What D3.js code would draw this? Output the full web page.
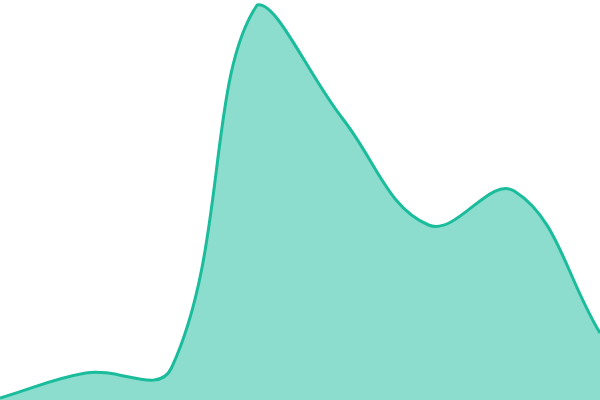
<!DOCTYPE html>
<html><head><meta charset="utf-8">
<script src="https://cdn.jsdelivr.net/npm/d3@7"></script>
<style>html,body{margin:0;padding:0;background:#fff;overflow:hidden}</style>
</head><body>
<svg id="chart" width="600" height="400"></svg>
<script>
const categories = ["A","B","C","D","E","F","G","H"];
const values = [2, 27, 32, 395, 281, 175, 209, 67];

const W = 600, H = 400;
const svg = d3.select("#chart");
const x = d3.scalePoint().domain(categories).range([0, W]);
const y = d3.scaleLinear().domain([0, 400]).range([H, 0]);
const data = categories.map((c, i) => ({c, v: values[i]}));

// Spline with distance-weighted tension (control points capped to the drawing area)
function SplineCurve(context, tension) { this._context = context; this._t = tension; }
SplineCurve.prototype = {
  areaStart() { this._line = 0; },
  areaEnd() { this._line = NaN; },
  lineStart() { this._xs = []; this._ys = []; },
  point(px, py) { this._xs.push(+px); this._ys.push(+py); },
  lineEnd() {
    const xs = this._xs, ys = this._ys, n = xs.length, c = this._context, t = this._t;
    const cx = v => Math.max(0, Math.min(W, v)), cy = v => Math.max(0, Math.min(H, v));
    if (n) {
      if (this._line) c.lineTo(xs[0], ys[0]); else c.moveTo(xs[0], ys[0]);
      const cp = [];
      for (let i = 0; i < n; i++) {
        const pi = i > 0 ? i - 1 : i, ni = i < n - 1 ? i + 1 : i;
        const d01 = Math.hypot(xs[i] - xs[pi], ys[i] - ys[pi]);
        const d12 = Math.hypot(xs[ni] - xs[i], ys[ni] - ys[i]);
        let s01 = d01 / (d01 + d12), s12 = d12 / (d01 + d12);
        if (isNaN(s01)) s01 = 0; if (isNaN(s12)) s12 = 0;
        const fa = t * s01, fb = t * s12;
        cp.push({
          px: cx(xs[i] - fa * (xs[ni] - xs[pi])), py: cy(ys[i] - fa * (ys[ni] - ys[pi])),
          nx: cx(xs[i] + fb * (xs[ni] - xs[pi])), ny: cy(ys[i] + fb * (ys[ni] - ys[pi]))
        });
      }
      for (let i = 1; i < n; i++) c.bezierCurveTo(cp[i-1].nx, cp[i-1].ny, cp[i].px, cp[i].py, xs[i], ys[i]);
    }
    if (this._line || (this._line !== 0 && n === 1)) c.closePath();
    this._line = 1 - this._line;
  }
};
const curve = ctx => new SplineCurve(ctx, 0.4);

const area = d3.area().x(d => x(d.c)).y0(y(0)).y1(d => y(d.v)).curve(curve);
const line = d3.line().x(d => x(d.c)).y(d => y(d.v)).curve(curve);

svg.append("path").datum(data).attr("d", area).attr("fill", "#1abc9c").attr("fill-opacity", 0.5);
svg.append("path").datum(data).attr("d", line).attr("fill", "none").attr("stroke", "#1abc9c").attr("stroke-width", 3);
</script>
</body></html>
